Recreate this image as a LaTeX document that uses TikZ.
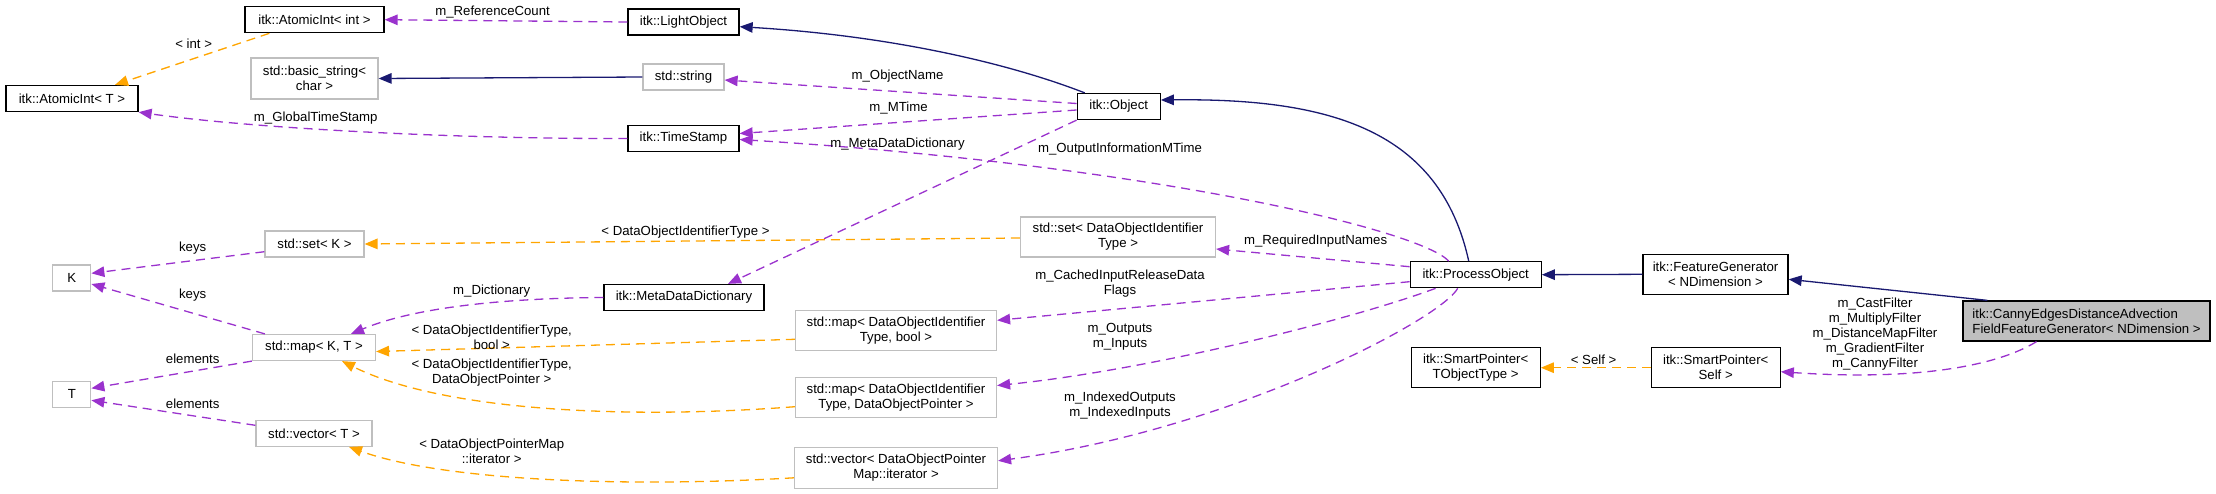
\documentclass[tikz,border=0pt]{standalone}
\usepackage{fontspec}
\setmainfont{Liberation Sans}
\usepackage{xcolor}
\usetikzlibrary{arrows.meta,calc}
\definecolor{inhblue}{HTML}{191970}
\definecolor{usepurple}{HTML}{9A32CD}
\definecolor{tmplorange}{HTML}{FFA500}
\definecolor{undocgrey}{HTML}{BFBFBF}

\tikzset{
  cls/.style={draw=black, line width=1.3pt, fill=white, inner sep=0pt, align=center},
  extcls/.style={cls, draw=undocgrey, line width=1.2pt},
  tip/.style={-{Triangle[length=13pt,width=10.5pt]}},
  inherit/.style={draw=inhblue, line width=1.3pt, tip},
  usage/.style={draw=usepurple, line width=1.3pt, dash pattern=on 9pt off 6pt, tip},
  tmpl/.style={draw=tmplorange, line width=1.3pt, dash pattern=on 9pt off 6pt, tip},
  lbl/.style={align=center, inner sep=0pt},
}

\begin{document}
\begin{tikzpicture}[x=1pt, y=-1pt, font=\fontsize{13.2}{15}\selectfont]
\useasboundingbox (0,0) rectangle (2216,493);

% classes
\node[cls, minimum width=139pt, minimum height=26pt] (aiInt) at (314.5,19.7) {itk::AtomicInt< int >};
\node[cls, minimum width=111pt, minimum height=26pt] (lightObj) at (683.5,22) {itk::LightObject};
\node[extcls, minimum width=127pt, minimum height=41pt] (basicStr) at (314.5,78.5) {std::basic\_string<\\char >};
\node[extcls, minimum width=81pt, minimum height=26pt] (stdStr) at (683.5,77) {std::string};
\node[cls, minimum width=132pt, minimum height=26pt] (aiT) at (72,98.5) {itk::AtomicInt< T >};
\node[cls, minimum width=111pt, minimum height=26pt] (timeStamp) at (683.5,138.5) {itk::TimeStamp};
\node[cls, minimum width=83pt, minimum height=26pt] (object) at (1118.7,106.5) {itk::Object};
\node[extcls, minimum width=99pt, minimum height=26pt] (setK) at (314.5,244) {std::set< K >};
\node[extcls, minimum width=195pt, minimum height=40pt] (setDOI) at (1118,237) {std::set< DataObjectIdentifier\\Type >};
\node[extcls, minimum width=38pt, minimum height=26pt] (nodeK) at (71.8,278) {K};
\node[cls, minimum width=160pt, minimum height=26pt] (mdd) at (684,297.5) {itk::MetaDataDictionary};
\node[extcls, minimum width=123pt, minimum height=26pt] (mapKT) at (314,347.5) {std::map< K, T >};
\node[extcls, minimum width=38pt, minimum height=26pt] (nodeT) at (71.8,394.3) {T};
\node[extcls, minimum width=116pt, minimum height=26pt] (vecT) at (314,433.3) {std::vector< T >};
\node[extcls, minimum width=201pt, minimum height=40pt] (mapBool) at (896,330.3) {std::map< DataObjectIdentifier\\Type, bool >};
\node[extcls, minimum width=201pt, minimum height=40pt] (mapPtr) at (896,397.5) {std::map< DataObjectIdentifier\\Type, DataObjectPointer >};
\node[extcls, minimum width=203pt, minimum height=41pt] (vecIt) at (896,467.8) {std::vector< DataObjectPointer\\Map::iterator >};
\node[cls, minimum width=131pt, minimum height=26pt] (procObj) at (1475.7,274.7) {itk::ProcessObject};
\node[cls, minimum width=145pt, minimum height=40pt] (featGen) at (1715.5,274.3) {itk::FeatureGenerator\\< NDimension >};
\node[cls, fill=undocgrey, align=left, minimum width=247pt, minimum height=40pt] (canny) at (2086.5,321) {itk::CannyEdgesDistanceAdvection\\FieldFeatureGenerator< NDimension >};
\node[cls, minimum width=129pt, minimum height=40pt] (spObj) at (1475.7,367.7) {itk::SmartPointer<\\TObjectType >};
\node[cls, minimum width=129pt, minimum height=40pt] (spSelf) at (1715.7,367.7) {itk::SmartPointer<\\Self >};

% inheritance
\draw[inherit] (stdStr.west) -- (basicStr.east);
\draw[inherit] ([xshift=-34pt]object.north) .. controls (1000,60) and (880,35) .. ([yshift=-4.7pt]lightObj.east);
\draw[inherit] ([xshift=-7pt]procObj.north) .. controls (1440,130) and (1330,98) .. ([yshift=6.5pt]object.east);
\draw[inherit] (featGen.west) -- (procObj.east);
\draw[inherit] ([xshift=25pt]canny.north west) -- ([yshift=-5pt]featGen.east);

% members
\draw[usage] (lightObj.west) -- (aiInt.east);
\draw[usage] ([yshift=3pt]object.west) -- ([yshift=-3pt]stdStr.east);
\draw[usage] ([yshift=-3.5pt]object.west) -- ([yshift=5pt]timeStamp.east);
\draw[usage] ([xshift=-27pt]procObj.north) .. controls (1420,230) and (1150,165) .. ([yshift=-1pt]timeStamp.east);
\draw[usage] (timeStamp.west) .. controls (450,139) and (250,128) .. (aiT.south east);
\draw[usage] (object.south west) -- ([xshift=44pt]mdd.north);
\draw[usage] ([yshift=8pt]procObj.west) -- ([yshift=-12pt]setDOI.east);
\draw[usage] ([yshift=-7.7pt]setK.west) -- ([yshift=4.7pt]nodeK.east);
\draw[usage] ([xshift=13pt]mapKT.north west) -- ([yshift=-6pt]nodeK.east);
\draw[usage] (mapKT.south west) -- ([yshift=6pt]nodeT.east);
\draw[usage] ([yshift=8pt]vecT.west) -- ([yshift=-6pt]nodeT.east);
\draw[usage] (mdd.west) .. controls (520,298) and (420,305) .. ([xshift=37pt]mapKT.north);
\draw[usage] ([yshift=-7pt]procObj.west) -- ([yshift=10pt]mapBool.east);
\draw[usage] ([xshift=26pt]procObj.south west) .. controls (1350,320) and (1150,370) .. ([yshift=12pt]mapPtr.east);
\draw[usage] ([xshift=-18pt]procObj.south) .. controls (1440,320) and (1230,430) .. ([yshift=7pt]vecIt.east);
\draw[usage] ([xshift=-50pt]canny.south) .. controls (1990,370) and (1900,380) .. ([yshift=-4pt]spSelf.east);

% template instances
\draw[tmpl] ([xshift=25pt]aiInt.south west) -- ([xshift=43pt]aiT.north);
\draw[tmpl] ([yshift=-1pt]setDOI.west) -- (setK.east);
\draw[tmpl] ([yshift=-9pt]mapBool.west) -- ([yshift=-4pt]mapKT.east);
\draw[tmpl] ([yshift=-9.2pt]mapPtr.west) .. controls (620,420) and (440,410) .. ([xshift=28pt]mapKT.south);
\draw[tmpl] ([yshift=-10pt]vecIt.west) .. controls (620,488) and (440,480) .. ([xshift=35pt]vecT.south);
\draw[tmpl] (spSelf.west) -- (spObj.east);

% edge labels
\node[lbl] (lRefCount) at (492.6,11.7) {m\_ReferenceCount};
\node[lbl] (lInt) at (193.7,43.3) {< int >};
\node[lbl] (lObjName) at (897.5,76) {m\_ObjectName};
\node[lbl] (lMTime) at (898.5,107.7) {m\_MTime};
\node[lbl] (lGlobal) at (315.7,118.3) {m\_GlobalTimeStamp};
\node[lbl] (lMeta) at (897.5,144) {m\_MetaDataDictionary};
\node[lbl] (lOutInfo) at (1120,148.7) {m\_OutputInformationMTime};
\node[lbl] (lDOIType) at (685.5,232) {< DataObjectIdentifierType >};
\node[lbl] (lReqIn) at (1315.6,241) {m\_RequiredInputNames};
\node[lbl] (lKeysA) at (192.7,248.3) {keys};
\node[lbl] (lKeysB) at (192.7,295) {keys};
\node[lbl] (lDict) at (491.7,291) {m\_Dictionary};
\node[lbl] (lCached) at (1120,284) {m\_CachedInputReleaseData\\Flags};
\node[lbl] (lBool) at (491.7,337) {< DataObjectIdentifierType,\\bool >};
\node[lbl] (lOutIn) at (1120,336.3) {m\_Outputs\\m\_Inputs};
\node[lbl] (lElemA) at (192.7,358.3) {elements};
\node[lbl] (lPtr) at (491.7,372.3) {< DataObjectIdentifierType,\\DataObjectPointer >};
\node[lbl] (lSelf) at (1593.6,359.3) {< Self >};
\node[lbl] (lFilters) at (1875,334) {m\_CastFilter\\m\_MultiplyFilter\\m\_DistanceMapFilter\\m\_GradientFilter\\m\_CannyFilter};
\node[lbl] (lIndexed) at (1120,405.7) {m\_IndexedOutputs\\m\_IndexedInputs};
\node[lbl] (lElemB) at (192.7,403.3) {elements};
\node[lbl] (lIter) at (491.7,450.8) {< DataObjectPointerMap\\::iterator >};
\end{tikzpicture}
\end{document}
